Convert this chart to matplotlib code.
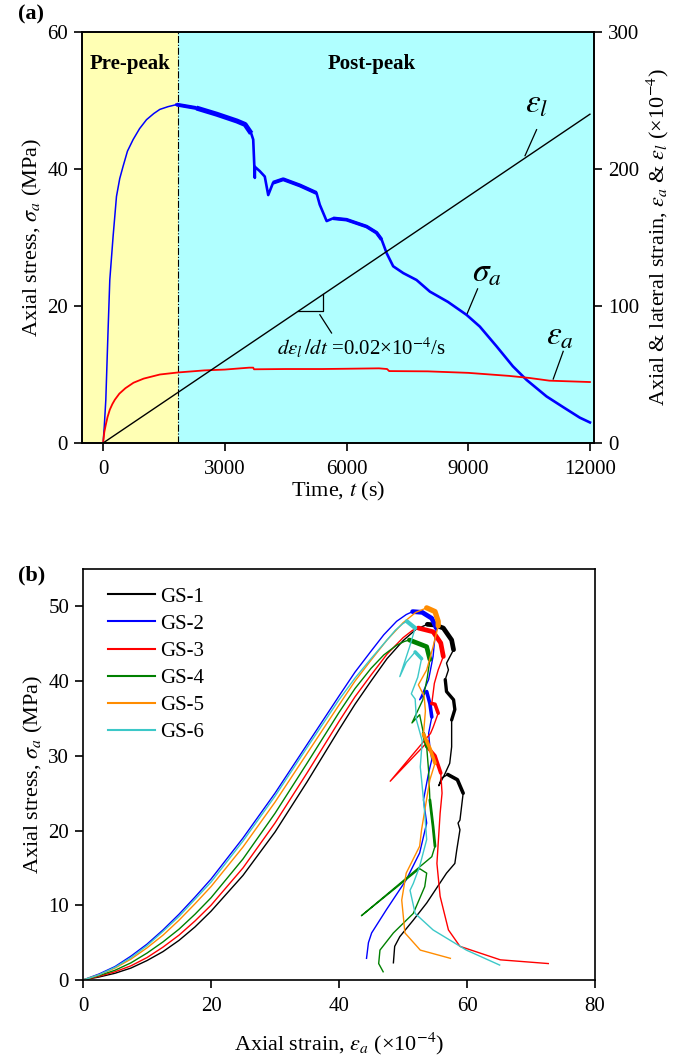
import matplotlib
matplotlib.use("Agg")
import matplotlib.pyplot as plt

plt.rcParams['font.family'] = ['Liberation Serif', 'DejaVu Serif']
plt.rcParams['mathtext.fontset'] = 'stix'

# ---------------- Panel (a) data ----------------
t_sigma = [0, 30, 67, 120, 165, 247, 330, 410, 493, 600, 740, 900, 1070, 1250, 1398, 1600, 1810,
           2300, 2800, 3300, 3500, 3650, 3700, 3740, 3745, 3860, 3985, 4070, 4190, 4440,
           4850, 5260, 5340, 5510, 5670, 6000, 6495, 6740, 6865, 6990, 7150, 7400, 7725,
           8055, 8500, 8960, 9285, 9700, 10100, 10440, 10930, 11350, 11750, 12000]
sigma_a = [0, 2.5, 6.3, 16.0, 23.8, 30.2, 36.0, 38.6, 40.4, 42.6, 44.3, 45.9, 47.2, 48.1, 48.7, 49.1, 49.4,
           48.9, 48.0, 47.0, 46.5, 45.2, 44.3, 38.7, 40.3, 39.7, 38.9, 36.2, 38.0, 38.5,
           37.6, 36.5, 34.8, 32.4, 32.8, 32.6, 31.6, 30.7, 29.7, 27.7, 25.8, 24.8, 23.8,
           22.1, 20.6, 18.7, 17.0, 14.1, 11.2, 9.2, 6.8, 5.2, 3.7, 3.0]

t_eps_a = [0, 30, 67, 110, 165, 230, 290, 400, 550, 750, 1000, 1400, 1850, 2500, 3000, 3600,
           3700, 3720, 4500, 5400, 6000, 6800, 7000, 7050, 8000, 9000, 10000, 10500, 11000, 12000]
eps_a = [0, 8, 13.4, 19, 24.3, 28.5, 31.6, 36, 40, 44, 47, 50, 51.5, 53, 53.6, 55,
         55, 53.8, 54, 54, 54.2, 54.5, 54, 52.5, 52.3, 51.2, 49, 47.5, 45.5, 44.5]

t_eps_l = [0, 12000]
eps_l = [0, 240]

t_peak = 1850

# ---------------- Panel (b) data ----------------
labels_b = ['GS-1', 'GS-2', 'GS-3', 'GS-4', 'GS-5', 'GS-6']
colors_b = ['#000000', '#0000FF', '#FF0000', '#008000', '#FF8C00', '#3CC8C8']

# pre-peak (loading) branches, ending at the peak
e1_pre = [0, 2.5, 5, 7.5, 10, 12.5, 15, 17.5, 20, 25, 30, 35, 40, 42.5, 45, 47.5, 50, 52, 53.8]
s1_pre = [0, 0.4, 0.9, 1.6, 2.6, 3.8, 5.3, 7.1, 9.2, 14.0, 19.8, 26.5, 33.5, 36.9, 40.0, 43.0, 45.4, 46.9, 47.6]
e2_pre = [0, 2.5, 5, 7.5, 10, 12.5, 15, 17.5, 20, 25, 30, 35, 40, 42.5, 45, 47, 49, 50.5, 51.5]
s2_pre = [0, 0.8, 1.8, 3.2, 4.8, 6.7, 8.8, 11.1, 13.5, 19.0, 25.0, 31.5, 38.0, 41.2, 44.0, 46.2, 48.0, 48.9, 49.3]
e3_pre = [0, 2.5, 5, 7.5, 10, 12.5, 15, 17.5, 20, 25, 30, 35, 40, 42.5, 45, 47.5, 50, 51.5, 52.4]
s3_pre = [0, 0.5, 1.1, 1.9, 3.0, 4.4, 6.0, 7.9, 10.0, 15.0, 21.0, 27.7, 34.6, 37.9, 40.8, 43.6, 45.8, 46.8, 47.1]
e4_pre = [0, 2.5, 5, 7.5, 10, 12.5, 15, 17.5, 20, 25, 30, 35, 40, 42.5, 45, 47, 49, 50.2, 51]
s4_pre = [0, 0.6, 1.3, 2.3, 3.6, 5.1, 6.8, 8.8, 11.0, 16.2, 22.3, 29.0, 35.8, 39.0, 41.7, 43.5, 44.8, 45.3, 45.5]
e5_pre = [0, 2.5, 5, 7.5, 10, 12.5, 15, 17.5, 20, 25, 30, 35, 40, 42.5, 45, 47.5, 50, 52, 53.7]
s5_pre = [0, 0.7, 1.6, 2.8, 4.3, 6.0, 8.0, 10.2, 12.5, 17.8, 23.8, 30.3, 36.8, 40.0, 42.8, 45.5, 47.8, 49.2, 49.8]
e6_pre = [0, 2.5, 5, 7.5, 10, 12.5, 15, 17.5, 20, 25, 30, 35, 40, 42.5, 45, 47, 48.8, 50, 50.6]
s6_pre = [0, 0.7, 1.7, 3.0, 4.6, 6.5, 8.5, 10.8, 13.1, 18.6, 24.6, 31.1, 37.5, 40.4, 43.0, 45.0, 46.8, 47.7, 48.0]

# post-peak branches
e1_post = [55.0, 56.3, 57.6, 57.9, 56.8, 57.1, 56.6, 56.8, 57.9, 58.1, 57.6, 57.6, 57.3, 56.5, 55.6,
           56.0, 57.0, 58.5, 59.4, 58.9, 58.6, 58.9, 58.4, 58.1, 56.8, 53.7, 51.6, 49.5, 48.7, 48.5]
s1_post = [47.5, 47.1, 45.5, 44.2, 42.4, 41.5, 40.2, 38.6, 37.5, 36.2, 34.8, 31.2, 29.0, 27.5, 26.0,
           27.0, 27.5, 26.8, 25.0, 21.4, 21.0, 20.1, 17.4, 15.6, 14.3, 10.3, 8.0, 5.8, 4.5, 2.3]
e2_post = [53.0, 54.5, 55.2, 54.9, 54.7, 54.0, 52.6, 53.7, 54.2, 54.5, 54.0, 54.2, 54.5, 54.0,
           53.2, 53.7, 52.6, 50.5, 47.4, 45.1, 44.6, 44.3]
s2_post = [49.2, 48.4, 47.1, 45.1, 43.3, 40.2, 37.5, 38.6, 37.0, 35.2, 33.0, 31.2, 29.5, 27.7,
           24.1, 21.0, 17.0, 13.4, 9.4, 6.3, 5.0, 2.9]
e3_post = [54.7, 55.9, 56.3, 55.5, 54.9, 54.5, 55.0, 55.5, 54.7, 54.3, 48.0, 54.0, 54.0, 55.0,
           55.9, 56.1, 55.8, 55.3, 55.8, 57.1, 58.9, 65.2, 72.7]
s3_post = [46.6, 45.1, 43.3, 41.5, 39.7, 37.0, 36.9, 35.7, 33.8, 33.0, 26.6, 32.0, 31.0, 30.0,
           27.7, 25.0, 22.3, 15.6, 11.2, 6.7, 4.5, 2.7, 2.2]
e4_post = [53.7, 54.2, 53.8, 53.1, 51.4, 52.6, 53.2, 53.7, 54.0, 54.2, 54.7, 55.0, 54.5, 43.5,
           52.6, 53.7, 53.4, 51.6, 48.5, 46.4, 46.2, 46.9]
s4_post = [44.6, 42.9, 40.5, 37.5, 34.4, 35.5, 33.0, 31.2, 28.0, 24.1, 20.5, 17.9, 16.5, 8.6,
           14.9, 14.3, 12.5, 8.9, 6.3, 4.0, 2.2, 1.1]
e5_post = [55.0, 55.5, 55.5, 54.7, 53.7, 52.4, 53.3, 53.5, 53.2, 54.2, 55.0, 54.2, 52.9, 52.6,
           50.5, 49.8, 50.3, 52.7, 57.4]
s5_post = [49.3, 48.0, 47.4, 44.6, 41.5, 39.5, 38.0, 36.0, 32.9, 31.0, 29.0, 26.8, 20.1, 17.9,
           14.3, 10.7, 6.3, 4.0, 2.9]
e6_post = [51.9, 51.0, 49.5, 50.5, 51.9, 52.9, 52.3, 51.3, 51.9, 52.1, 53.0, 52.7, 52.9, 53.4,
           53.7, 52.6, 51.6, 51.1, 51.9, 54.7, 59.9, 65.1]
s6_post = [47.1, 44.5, 40.6, 42.5, 43.9, 43.0, 40.5, 38.3, 37.6, 34.8, 32.0, 28.5, 26.8, 22.3,
           18.8, 15.2, 12.9, 12.0, 8.9, 6.7, 4.0, 2.0]

strain_pre = [e1_pre, e2_pre, e3_pre, e4_pre, e5_pre, e6_pre]
stress_pre = [s1_pre, s2_pre, s3_pre, s4_pre, s5_pre, s6_pre]
strain_post = [e1_post, e2_post, e3_post, e4_post, e5_post, e6_post]
stress_post = [s1_post, s2_post, s3_post, s4_post, s5_post, s6_post]

# style: thick noisy segments (index ranges counted from the peak point, linewidth)
bands_b = [
    [(0, 4, 3.4), (7, 11, 2.4), (17, 19, 2.6)],
    [(0, 3, 3.4), (8, 10, 2.6)],
    [(0, 3, 3.4), (6, 8, 2.6), (13, 15, 2.6)],
    [(0, 2, 3.4), (7, 8, 2.4), (10, 12, 2.0)],
    [(0, 3, 3.8), (9, 11, 2.6)],
    [(0, 1, 3.0), (5, 6, 2.6)],
]

W, H = 685, 1062
fig = plt.figure(figsize=(W / 100, H / 100), dpi=100)

FS = 15

# ---------------- Panel (a) ----------------
ax1 = fig.add_axes([82 / W, 1 - 443 / H, 512 / W, 411 / H])
ax2 = ax1.twinx()
ax1.set_xlim(-520, 12100)
ax1.set_ylim(0, 60)
ax2.set_ylim(0, 300)
ax1.axvspan(-520, t_peak, color='#FFFFB4', zorder=0, lw=0)
ax1.axvspan(t_peak, 12100, color='#B0FFFF', zorder=0, lw=0)
ax1.axvline(t_peak, color='k', lw=0.8, ls='-.', zorder=1)

n_pre = sum(1 for t in t_sigma if t <= 1810)
ax1.plot(t_sigma[:n_pre], sigma_a[:n_pre], color='#0000FF', lw=1.1, zorder=3)
ax1.plot(t_sigma[n_pre - 1:], sigma_a[n_pre - 1:], color='#0000FF', lw=1.9, zorder=3)
for (ta, tb, w) in [(1810, 2300, 2.8), (2300, 3650, 3.6), (4190, 5260, 2.8), (5670, 6865, 2.6)]:
    idx = [i for i, t in enumerate(t_sigma) if ta <= t <= tb]
    ax1.plot([t_sigma[i] for i in idx], [sigma_a[i] for i in idx], color='#0000FF', lw=w,
             solid_capstyle='butt', zorder=3)

ax2.plot(t_eps_a, eps_a, color='#FF0000', lw=1.3, zorder=2)
ax2.plot(t_eps_l, eps_l, color='k', lw=1.0, zorder=2)

# slope triangle and annotations
ax2.plot([4800, 5425, 5425], [96, 96, 108.5], color='k', lw=0.9)
ax2.plot([5343, 5631], [93.6, 80.3], color='k', lw=0.9)
ax1.text(8450, 13.9, r'$d\varepsilon_l\,/dt$ =0.02×10$^{-4}$/s', ha='right', va='center', fontsize=FS)
ax2.plot([10685, 10400], [228.7, 209.7], color='k', lw=0.9)
ax2.text(10685, 247, r'$\varepsilon_l$', fontsize=24, ha='center', va='center')
ax1.plot([9231, 8960], [22.5, 18.7], color='k', lw=0.9)
ax1.text(9453, 24.8, r'$\sigma_a$', fontsize=24, ha='center', va='center')
ax2.plot([11341, 11095], [66.9, 46.7], color='k', lw=0.9)
ax2.text(11260, 78, r'$\varepsilon_a$', fontsize=24, ha='center', va='center')

ax1.text((-520 + t_peak) / 2, 55.3, 'Pre-peak', fontsize=FS, fontweight='bold', ha='center', va='center')
ax1.text(6620, 55.3, 'Post-peak', fontsize=FS, fontweight='bold', ha='center', va='center')

ax1.set_xticks([0, 3000, 6000, 9000, 12000])
ax1.set_yticks([0, 20, 40, 60])
ax2.set_yticks([0, 100, 200, 300])
for a in (ax1, ax2):
    a.tick_params(direction='out', length=6, width=1.2, labelsize=FS, pad=4)
    for sp in a.spines.values():
        sp.set_linewidth(1.2)
ax1.tick_params(axis='x', pad=6)
ax1.set_xlabel(r'Time, $t$ (s)', fontsize=FS + 1, labelpad=1)
ax1.set_ylabel(r'Axial stress, $\sigma_a$ (MPa)', fontsize=FS + 1, labelpad=2)
ax2.set_ylabel(r'Axial & lateral strain, $\varepsilon_a$ & $\varepsilon_l$ (×10$^{-4}$)', fontsize=FS + 1, labelpad=4)
fig.text(18 / W, 1 - 14 / H, '(a)', fontsize=FS + 1, fontweight='bold', ha='left', va='center')

# ---------------- Panel (b) ----------------
ax3 = fig.add_axes([83 / W, 1 - 980 / H, 512 / W, 411 / H])
ax3.set_xlim(0, 80)
ax3.set_ylim(0, 55)
for ep, sp_, eq, sq, c, lab, bands in zip(strain_pre, stress_pre, strain_post, stress_post,
                                          colors_b, labels_b, bands_b):
    e = ep + eq
    s = sp_ + sq
    k0 = len(ep) - 1
    ax3.plot(e, s, color=c, lw=1.0, label=lab)
    for (i0, i1, w) in bands:
        ax3.plot(e[k0 + i0:k0 + i1 + 1], s[k0 + i0:k0 + i1 + 1], color=c, lw=w, solid_capstyle='round')
ax3.set_xticks([0, 20, 40, 60, 80])
ax3.set_yticks([0, 10, 20, 30, 40, 50])
ax3.tick_params(direction='out', length=6, width=1.2, labelsize=FS, pad=4)
ax3.tick_params(axis='x', pad=6)
for sp in ax3.spines.values():
    sp.set_linewidth(1.2)
ax3.set_xlabel(r'Axial strain, $\varepsilon_a$ (×10$^{-4}$)', fontsize=FS + 1, labelpad=11)
ax3.set_ylabel(r'Axial stress, $\sigma_a$ (MPa)', fontsize=FS + 1, labelpad=2)
leg = ax3.legend(loc='upper left', bbox_to_anchor=(0.049, 0.956), frameon=False, fontsize=FS,
                 handlelength=2.26, handletextpad=0.25, labelspacing=0.36, borderpad=0, borderaxespad=0)
for h in leg.get_lines():
    h.set_linewidth(1.5)
fig.text(18 / W, 1 - 575 / H, '(b)', fontsize=FS + 1, fontweight='bold', ha='left', va='center')

fig.savefig('out.png', dpi=100)
